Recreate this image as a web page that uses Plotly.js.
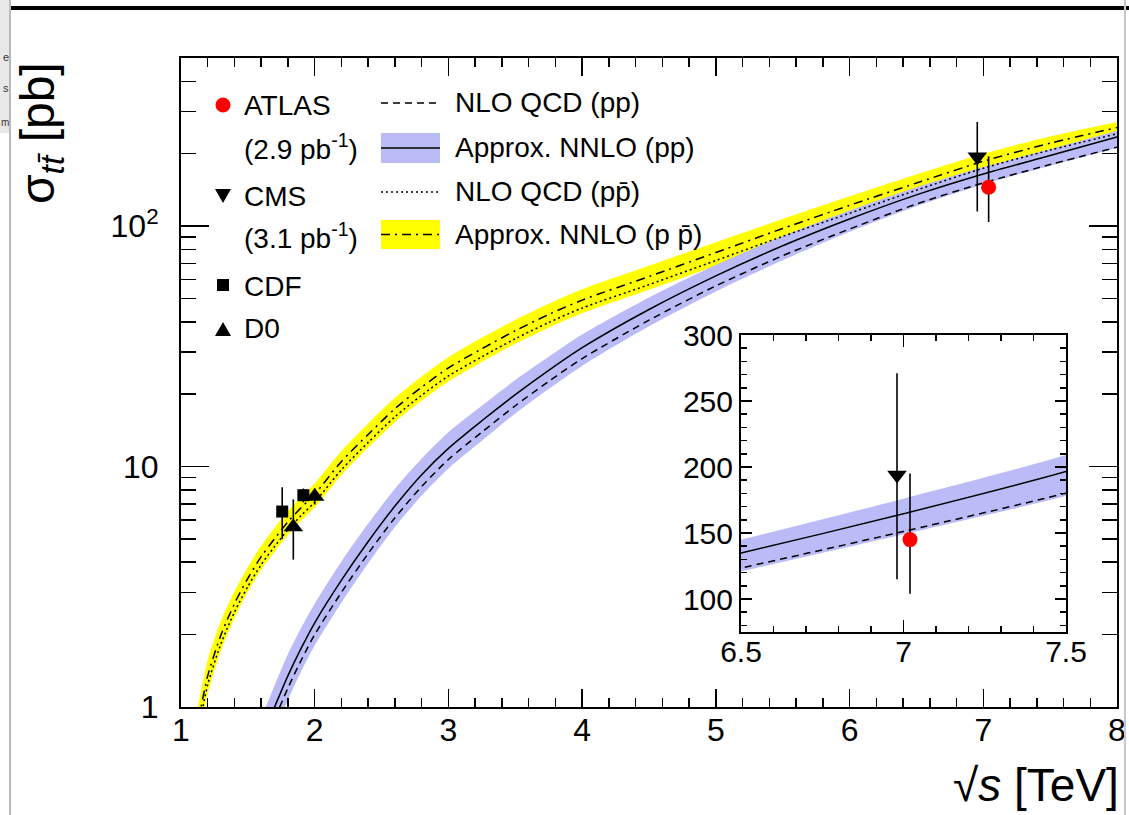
<!DOCTYPE html>
<html>
<head>
<meta charset="utf-8">
<script src="https://cdn.plot.ly/plotly-3.0.1.min.js"></script>
<style>
  html, body { margin: 0; padding: 0; background: #ffffff; }
  #chart { width: 1129px; height: 815px; }
</style>
</head>
<body>
<div id="chart"></div>
<script>
// ---------------- data ----------------
// centre-of-mass energy grid for the pp curves [TeV]
const sqrtSpp = [1.6, 1.7, 1.8, 1.9, 2.0, 2.2, 2.4, 2.6, 2.8, 3.0, 3.25, 3.5, 3.75, 4.0, 4.5, 5.0, 5.5, 6.0, 6.5, 7.0, 7.5, 8.0];
// approx. NNLO (pp) central value and band [pb]
const nnloPP   = [0.733, 1.00, 1.35, 1.76, 2.24, 3.37, 4.88, 6.85, 9.25, 11.9, 15.5, 19.9, 25.1, 31.2, 45.0, 62.1, 82.8, 107, 134.8, 164.6, 196.6, 235];
const nnloPPlo = [0.582, 0.794, 1.07, 1.41, 1.80, 2.72, 3.96, 5.60, 7.57, 9.82, 12.8, 16.6, 21.0, 26.2, 38.3, 53.5, 72.1, 94.6, 121, 149, 178, 211];
const nnloPPhi = [0.902, 1.23, 1.66, 2.14, 2.69, 4.03, 5.79, 8.09, 10.8, 13.9, 17.9, 22.9, 28.6, 35.4, 50.5, 68.9, 90.8, 116, 145, 176, 209, 249];
// NLO QCD (pp) [pb]
const nloPP    = [0.653, 0.891, 1.20, 1.57, 2.00, 3.00, 4.35, 6.12, 8.26, 10.7, 13.9, 17.9, 22.6, 28.1, 40.6, 56.4, 75.3, 97.2, 123.5, 151.2, 180.2, 213];

// centre-of-mass energy grid for the p-pbar curves [TeV]
const sqrtSppbar = [1.1, 1.15, 1.2, 1.3, 1.4, 1.5, 1.6, 1.7, 1.8, 1.9, 2.0, 2.2, 2.4, 2.6, 2.8, 3.0, 3.25, 3.5, 3.75, 4.0, 4.5, 5.0, 5.5, 6.0, 6.5, 7.0, 7.5, 8.0];
const nnloPPbar   = [0.724, 1.00, 1.35, 2.00, 2.69, 3.43, 4.22, 5.01, 5.89, 6.76, 7.67, 10.5, 13.6, 17.4, 21.4, 25.7, 30.9, 36.7, 42.9, 49.2, 61.7, 77.6, 97.7, 122, 151, 186, 221, 257];
const nnloPPbarLo = [0.603, 0.832, 1.135, 1.72, 2.34, 3.01, 3.72, 4.42, 5.19, 5.96, 6.76, 9.23, 12.0, 15.3, 18.8, 22.6, 27.2, 32.4, 37.8, 43.4, 54.3, 68.4, 86.1, 107, 133, 166, 197, 229];
const nnloPPbarHi = [0.851, 1.17, 1.57, 2.29, 3.02, 3.82, 4.68, 5.56, 6.53, 7.50, 8.51, 11.6, 15.1, 19.3, 23.7, 28.5, 34.3, 40.7, 47.5, 54.6, 68.4, 85.7, 107, 133, 164, 200, 236, 271];
const nloPPbar    = [0.661, 0.912, 1.24, 1.84, 2.48, 3.17, 3.91, 4.65, 5.46, 6.27, 7.11, 9.70, 12.6, 16.1, 19.8, 23.8, 28.6, 34.0, 39.7, 45.6, 57.1, 71.9, 90.6, 113, 141, 174, 207, 242];

// measurements
const atlasX = [7.04],  atlasXInset = [7.02], atlasY = [145], atlasUp = [50], atlasDown = [41];
const cmsX   = [6.955], cmsXInset   = [6.98], cmsY   = [194], cmsUp   = [77], cmsDown   = [79];
const cdfX = [1.757, 1.915], cdfY = [6.5, 7.6], cdfUp = [1.7, 0.5], cdfDown = [1.5, 0.5];
const d0X  = [1.84, 2.0],    d0Y  = [5.6, 7.5], d0Up  = [1.7, 0.6], d0Down  = [1.5, 0.55];

// axis ticks
const xTicks = [1, 2, 3, 4, 5, 6, 7, 8];
const yTicks = [1, 10, 100];
const yTickText = ['1', '10', '10<sup>2</sup>'];
const yMinor = [2, 3, 4, 5, 6, 7, 8, 9, 20, 30, 40, 50, 60, 70, 80, 90, 200, 300, 400, 500];
const insetXTicks = [6.5, 7, 7.5];
const insetXTickText = ['6.5', '7', '7.5'];
const insetYTicks = [100, 150, 200, 250, 300];

// ---------------- styling ----------------
const W = 1129, H = 815;
const M = { l: 181, r: 12, t: 58, b: 108 };
const PW = W - M.l - M.r, PH = H - M.t - M.b;
const P = px => (px - M.l) / PW;          // pixel -> paper x
const Q = py => (H - M.b - py) / PH;      // pixel -> paper y
const pt = (x, y) => P(x) + ',' + Q(y);

const YELLOW = 'rgb(255,255,0)';
const BLUE = 'rgb(187,187,248)';
const LW = 1.5;
const DASH = '7px,5px';
const DOT = '2px,3px';
const DASHDOT = '9px,5px,2px,5px';
const FONT = 'Liberation Sans, Arial, Helvetica, sans-serif';

function band(x, lo, hi, color, xa, ya) {
  return [
    { x: x, y: lo, xaxis: xa, yaxis: ya, mode: 'lines', line: { width: 0, shape: 'spline', smoothing: 0.8 }, hoverinfo: 'skip', showlegend: false },
    { x: x, y: hi, xaxis: xa, yaxis: ya, mode: 'lines', line: { width: 0, shape: 'spline', smoothing: 0.8 }, fill: 'tonexty', fillcolor: color, hoverinfo: 'skip', showlegend: false }
  ];
}
function curve(x, y, dash, xa, ya) {
  return { x: x, y: y, xaxis: xa, yaxis: ya, mode: 'lines', line: { color: 'black', width: LW, dash: dash, shape: 'spline', smoothing: 0.8 }, hoverinfo: 'skip', showlegend: false };
}
function points(x, y, up, down, symbol, size, color, xa, ya) {
  return {
    x: x, y: y, xaxis: xa, yaxis: ya, mode: 'markers',
    marker: { symbol: symbol, size: size, color: color, line: { width: 0 } },
    error_y: { type: 'data', symmetric: false, array: up, arrayminus: down, color: 'black', thickness: 1.6, width: 0 },
    hoverinfo: 'skip', showlegend: false
  };
}

const traces = [
  ...band(sqrtSppbar, nnloPPbarLo, nnloPPbarHi, YELLOW, 'x', 'y'),
  ...band(sqrtSpp, nnloPPlo, nnloPPhi, BLUE, 'x', 'y'),
  curve(sqrtSpp, nloPP, DASH, 'x', 'y'),
  curve(sqrtSpp, nnloPP, 'solid', 'x', 'y'),
  curve(sqrtSppbar, nloPPbar, DOT, 'x', 'y'),
  curve(sqrtSppbar, nnloPPbar, DASHDOT, 'x', 'y'),
  points(cdfX, cdfY, cdfUp, cdfDown, 'square', 12, 'black', 'x', 'y'),
  points(d0X, d0Y, d0Up, d0Down, 'triangle-up', 17, 'black', 'x', 'y'),
  points(cmsX, cmsY, cmsUp, cmsDown, 'triangle-down', 17, 'black', 'x', 'y'),
  points(atlasX, atlasY, atlasUp, atlasDown, 'circle', 15, 'rgb(255,0,0)', 'x', 'y'),
  // inset
  ...band(sqrtSpp, nnloPPlo, nnloPPhi, BLUE, 'x2', 'y2'),
  curve(sqrtSpp, nloPP, DASH, 'x2', 'y2'),
  curve(sqrtSpp, nnloPP, 'solid', 'x2', 'y2'),
  points(cmsXInset, cmsY, cmsUp, cmsDown, 'triangle-down', 17, 'black', 'x2', 'y2'),
  points(atlasXInset, atlasY, atlasUp, atlasDown, 'circle', 15, 'rgb(255,0,0)', 'x2', 'y2')
];

const axisCommon = {
  ticks: 'inside', tickcolor: 'black', tickwidth: 1.5,
  showline: true, linecolor: 'black', linewidth: 2, mirror: 'allticks',
  showgrid: false, zeroline: false, fixedrange: true
};

const shapes = [
  // legend keys (right column)
  { type: 'line', xref: 'paper', yref: 'paper', x0: P(381), x1: P(438), y0: Q(103), y1: Q(103), line: { color: 'black', width: LW, dash: DASH } },
  { type: 'rect', xref: 'paper', yref: 'paper', x0: P(381), x1: P(440), y0: Q(163), y1: Q(133), fillcolor: BLUE, line: { width: 0 } },
  { type: 'line', xref: 'paper', yref: 'paper', x0: P(381), x1: P(440), y0: Q(148), y1: Q(148), line: { color: 'black', width: LW } },
  { type: 'line', xref: 'paper', yref: 'paper', x0: P(381), x1: P(438), y0: Q(192), y1: Q(192), line: { color: 'black', width: LW, dash: DOT } },
  { type: 'rect', xref: 'paper', yref: 'paper', x0: P(381), x1: P(440), y0: Q(249), y1: Q(220), fillcolor: YELLOW, line: { width: 0 } },
  { type: 'line', xref: 'paper', yref: 'paper', x0: P(381), x1: P(440), y0: Q(234.5), y1: Q(234.5), line: { color: 'black', width: LW, dash: DASHDOT } },
  // legend keys (left column markers)
  { type: 'circle', xref: 'paper', yref: 'paper', x0: P(215.5), x1: P(230.5), y0: Q(112.5), y1: Q(97.5), fillcolor: 'rgb(255,0,0)', line: { width: 0 } },
  { type: 'path', xref: 'paper', yref: 'paper', path: 'M' + pt(215, 189) + 'L' + pt(231, 189) + 'L' + pt(223, 203) + 'Z', fillcolor: 'black', line: { width: 0 } },
  { type: 'rect', xref: 'paper', yref: 'paper', x0: P(217), x1: P(229), y0: Q(291), y1: Q(279), fillcolor: 'black', line: { width: 0 } },
  { type: 'path', xref: 'paper', yref: 'paper', path: 'M' + pt(215, 336) + 'L' + pt(231, 336) + 'L' + pt(223, 322) + 'Z', fillcolor: 'black', line: { width: 0 } },
  // screenshot frame remnants
  { type: 'rect', xref: 'paper', yref: 'paper', x0: P(0), x1: P(9), y0: Q(133), y1: Q(0), fillcolor: 'rgb(232,232,232)', line: { width: 0 } },
  { type: 'line', xref: 'paper', yref: 'paper', x0: P(10), x1: P(10), y0: Q(0), y1: Q(815), line: { color: 'rgb(185,185,185)', width: 2 } },
  { type: 'line', xref: 'paper', yref: 'paper', x0: P(11), x1: P(1129), y0: Q(8), y1: Q(8), line: { color: 'black', width: 4 } },
  { type: 'line', xref: 'paper', yref: 'paper', x0: P(1125), x1: P(1125), y0: Q(0), y1: Q(815), line: { color: 'rgb(200,200,200)', width: 2 } }
];

function note(text, x, y, size, extra) {
  return Object.assign({ text: text, xref: 'paper', yref: 'paper', x: P(x), y: Q(y), xanchor: 'left', yanchor: 'middle', showarrow: false, font: { family: FONT, size: size, color: 'black' } }, extra || {});
}

const annotations = [
  note('ATLAS', 242, 105, 28),
  note('(2.9 pb<sup>-1</sup>)', 242, 147, 28),
  note('CMS', 242, 196, 28),
  note('(3.1 pb<sup>-1</sup>)', 242, 236, 28),
  note('CDF', 242, 286, 28),
  note('D0', 242, 329, 28),
  note('NLO QCD (pp)', 453, 103, 28),
  note('Approx. NNLO (pp)', 453, 147, 28),
  note('NLO QCD (pp\u0304)', 453, 191, 28),
  note('Approx. NNLO (p p\u0304)', 453, 234, 28),
  // axis titles
  note('\u221A<i>s</i> [TeV]', 1121, 785, 46, { xanchor: 'right' }),
  note('\u03C3<sub><i>tt\u0304</i></sub> [pb]', 41, 133, 48, { xanchor: 'center', textangle: -90 }),
  // cropped text of the neighbouring window
  note('e', 10, 57, 11, { xanchor: 'right', borderpad: 0, font: { family: FONT, size: 11, color: '#333' } }),
  note('s', 10, 88, 11, { xanchor: 'right', borderpad: 0, font: { family: FONT, size: 11, color: '#333' } }),
  note('m', 10, 122, 10, { xanchor: 'right', borderpad: 0, font: { family: FONT, size: 10, color: '#333' } })
];

const layout = {
  width: W, height: H,
  margin: { l: M.l, r: M.r, t: M.t, b: M.b, pad: 0 },
  paper_bgcolor: 'white', plot_bgcolor: 'rgba(0,0,0,0)',
  showlegend: false,
  font: { family: FONT, color: 'black' },
  xaxis: Object.assign({}, axisCommon, {
    domain: [0, 1], anchor: 'y', range: [1, 8],
    tickmode: 'array', tickvals: xTicks, ticklen: 18,
    tickfont: { size: 32 }, ticklabelstandoff: -6,
    minor: { tickmode: 'linear', tick0: 1, dtick: 0.2, ticks: 'inside', ticklen: 9, tickwidth: 1.5, tickcolor: 'black', showgrid: false }
  }),
  yaxis: Object.assign({}, axisCommon, {
    domain: [0, 1], anchor: 'x', type: 'log', range: [0, Math.log10(500)],
    tickmode: 'array', tickvals: yTicks, ticktext: yTickText, ticklen: 28,
    tickfont: { size: 32 }, ticklabelstandoff: 14,
    minor: { tickmode: 'array', tickvals: yMinor, ticks: 'inside', ticklen: 15, tickwidth: 1.5, tickcolor: 'black', showgrid: false }
  }),
  xaxis2: Object.assign({}, axisCommon, {
    domain: [P(741), P(1066)], anchor: 'y2', range: [6.5, 7.5],
    tickmode: 'array', tickvals: insetXTicks, ticktext: insetXTickText, ticklen: 12,
    tickfont: { size: 30 }, ticklabelstandoff: -8,
    minor: { tickmode: 'linear', tick0: 6.5, dtick: 0.1, ticks: 'inside', ticklen: 6, tickwidth: 1.5, tickcolor: 'black', showgrid: false }
  }),
  yaxis2: Object.assign({}, axisCommon, {
    domain: [Q(632), Q(335)], anchor: 'x2', range: [75, 300],
    tickmode: 'array', tickvals: insetYTicks, ticklen: 11,
    tickfont: { size: 30 }, ticklabelstandoff: 0,
    minor: { tickmode: 'linear', tick0: 0, dtick: 10, ticks: 'inside', ticklen: 6, tickwidth: 1.5, tickcolor: 'black', showgrid: false }
  }),
  shapes: shapes,
  annotations: annotations
};

Plotly.newPlot('chart', traces, layout, { staticPlot: true, displayModeBar: false });
</script>
</body>
</html>
